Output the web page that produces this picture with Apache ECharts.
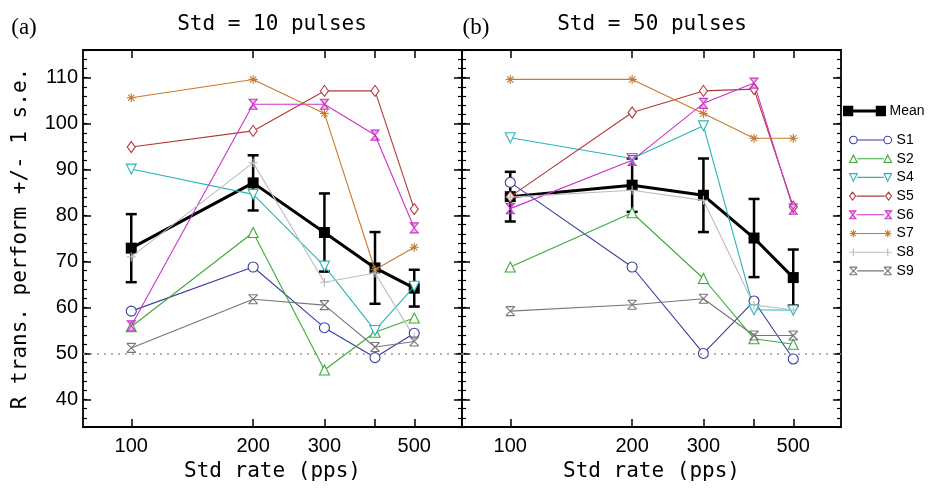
<!DOCTYPE html>
<html><head><meta charset="utf-8">
<script src="https://cdn.jsdelivr.net/npm/echarts@6/dist/echarts.min.js"></script>
<style>html,body{margin:0;padding:0;background:#fff}#c{width:939px;height:489px}</style>
</head><body><div id="c"></div>
<script>
// ---- data ----
const rates = [100, 200, 300, 400, 500];
const xTickRates = [100, 200, 300, 400, 500];
const xLabelRates = [100, 200, 300, 500];
const yMajorTicks = [40, 50, 60, 70, 80, 90, 100, 110];
const subjects = ['S1', 'S2', 'S4', 'S5', 'S6', 'S7', 'S8', 'S9'];
const panelTitles = ['Std = 10 pulses', 'Std = 50 pulses'];
const panelLetters = ['(a)', '(b)'];
const chance = 50;

const meanA = [72.9, 87.1, 76.3, 68.6, 64.2];
const seA   = [7.4, 6.0, 8.5, 7.8, 4.0];
const s1A = [59.2, 68.8, 55.6, 49.1, 54.4];
const s2A = [55.8, 76.3, 46.4, 54.6, 57.7];
const s4A = [90.1, 84.6, 69.0, 55.0, 64.6];
const s5A = [94.9, 98.4, 107.1, 107.1, 81.4];
const s6A = [56.0, 104.2, 104.2, 97.5, 77.3];
const s7A = [105.6, 109.6, 102.2, 68.2, 73.1];
const s8A = [71.0, 91.5, 65.5, 67.5, 53.5];
const s9A = [51.2, 61.8, 60.5, 51.4, 52.6];

const meanB = [84.1, 86.6, 84.4, 75.1, 66.5];
const seB   = [5.4, 5.8, 8.0, 8.5, 6.1];
const s1B = [87.2, 68.8, 50.0, 61.4, 48.8];
const s2B = [68.8, 80.6, 66.3, 53.2, 52.0];
const s4B = [96.9, 92.4, 99.5, 59.5, 59.4];
const s5B = [84.1, 102.4, 107.1, 107.5, 81.9];
const s6B = [81.5, 92.0, 104.4, 108.8, 81.4];
const s7B = [109.6, 109.6, 102.2, 96.8, 96.8];
const s8B = [84.0, 85.5, 83.3, 60.5, 59.5];
const s9B = [59.2, 60.6, 61.9, 53.9, 53.9];

const panels = [
  {mean: meanA, se: seA, subj: [s1A, s2A, s4A, s5A, s6A, s7A, s8A, s9A]},
  {mean: meanB, se: seB, subj: [s1B, s2B, s4B, s5B, s6B, s7B, s8B, s9B]}
];

// ---- styles ----
const subjStyle = [
  {color: '#3b3ba6', symbol: 'circle', size: 10, fill: '#fff', key: 'circle'},
  {color: '#3bab3b', symbol: 'triangle', size: 10, fill: '#fff', key: 'tri'},
  {color: '#2bb5b8', symbol: 'triangle', size: 10, fill: '#fff', rotate: 180, key: 'triDown'},
  {color: '#b33838', symbol: 'diamond', size: [8, 11], fill: '#fff', key: 'diamond'},
  {color: '#cc33cc', symbol: 'path://M0,0 L10,0 L0,12 L10,12 Z', size: [8, 10], fill: 'rgba(204,51,204,0.35)', key: 'hour'},
  {color: '#c87a2e', symbol: 'path://M5,0 L5,10 M0,5 L10,5 M1.5,1.5 L8.5,8.5 M8.5,1.5 L1.5,8.5', size: 9, fill: '#fff', key: 'star'},
  {color: '#bdbdbd', symbol: 'path://M5,0 L5,10 M0,5 L10,5', size: 9, fill: '#fff', key: 'plus'},
  {color: '#777777', symbol: 'path://M0,0 L10,0 M0,10 L10,10 M0,0 L10,10 M10,0 L0,10', size: 9, fill: '#fff', key: 'xbar'}
];

// legend icon: symbol - line - symbol, in a 44 x 8 box
const H = 4;
function symPath(key, cx) {
  const cy = H;
  switch (key) {
    case 'circle': return `M${cx-H},${cy} A${H},${H} 0 1 1 ${cx+H},${cy} A${H},${H} 0 1 1 ${cx-H},${cy} Z`;
    case 'tri': return `M${cx},0 L${cx+H},${2*H} L${cx-H},${2*H} Z`;
    case 'triDown': return `M${cx-H},0 L${cx+H},0 L${cx},${2*H} Z`;
    case 'diamond': return `M${cx},0 L${cx+H*0.75},${cy} L${cx},${2*H} L${cx-H*0.75},${cy} Z`;
    case 'hour': return `M${cx-H*0.8},0 L${cx+H*0.8},0 L${cx-H*0.8},${2*H} L${cx+H*0.8},${2*H} Z`;
    case 'star': return `M${cx},0 L${cx},${2*H} M${cx-H},${cy} L${cx+H},${cy} M${cx-H*0.7},${cy-H*0.7} L${cx+H*0.7},${cy+H*0.7} M${cx+H*0.7},${cy-H*0.7} L${cx-H*0.7},${cy+H*0.7}`;
    case 'plus': return `M${cx},0 L${cx},${2*H} M${cx-H},${cy} L${cx+H},${cy}`;
    case 'xbar': return `M${cx-H},0 L${cx+H},0 M${cx-H},${2*H} L${cx+H},${2*H} M${cx-H},0 L${cx+H},${2*H} M${cx+H},0 L${cx-H},${2*H}`;
  }
  return '';
}
function legendIcon(key) {
  const open = key === 'star' || key === 'plus';
  const a = open ? H : 2 * H, b = open ? 44 - H : 44 - 2 * H;
  return 'path://' + symPath(key, H) + ` M${a},${H} L${b},${H} ` + symPath(key, 44 - H);
}
const meanIcon = 'path://M0,0 L8,0 L8,8 L0,8 Z M8,4 L36,4 M36,0 L44,0 L44,8 L36,8 Z';

const lg = v => Math.log10(v);
const xMin = lg(76), xMax = lg(656);
const yMin = 34, yMax = 116;
const monoFont = 'DejaVu Sans Mono';
const sansFont = 'Liberation Sans';
const axisLineStyle = {color: '#000', width: 1.8};

const grids = [
  {left: 83, right: 477, top: 50, bottom: 62},
  {left: 462, right: 98, top: 50, bottom: 62}
];

const xAxes = [], yAxes = [], series = [];
grids.forEach((g, gi) => {
  ['bottom', 'top'].forEach(pos => {
    xAxes.push({
      type: 'value', gridIndex: gi, position: pos, min: xMin, max: xMax,
      axisLine: {show: true, lineStyle: axisLineStyle},
      axisTick: {show: true, inside: true, length: 8, customValues: xTickRates.map(lg), lineStyle: {color: '#000', width: 1.5}},
      axisLabel: pos === 'bottom' ? {
        show: true, customValues: xLabelRates.map(lg), margin: 9,
        formatter: v => String(Math.round(Math.pow(10, v))),
        fontSize: 20, fontFamily: sansFont, color: '#000'
      } : {show: false},
      splitLine: {show: false},
      name: pos === 'bottom' ? 'Std rate (pps)' : '',
      nameLocation: 'middle', nameGap: 34,
      nameTextStyle: {fontSize: 21, fontFamily: monoFont, color: '#000'}
    });
  });
  ['left', 'right'].forEach(pos => {
    yAxes.push({
      type: 'value', gridIndex: gi, position: pos, min: yMin, max: yMax, interval: 2,
      axisLine: {show: true, lineStyle: axisLineStyle},
      axisTick: {show: true, inside: true, length: 4, lineStyle: {color: '#000', width: 1.2}},
      axisLabel: {show: false}, splitLine: {show: false}
    });
    const withLabels = gi === 0 && pos === 'left';
    yAxes.push({
      type: 'value', gridIndex: gi, position: pos, min: yMin, max: yMax,
      axisLine: {show: false},
      axisTick: {show: true, inside: true, length: 8, customValues: yMajorTicks, lineStyle: {color: '#000', width: 1.5}},
      axisLabel: withLabels ? {show: true, customValues: yMajorTicks, margin: 5, fontSize: 20, fontFamily: sansFont, color: '#000'} : {show: false},
      splitLine: {show: false},
      name: withLabels ? 'R trans. perform +/- 1 s.e.' : '',
      nameLocation: 'middle', nameGap: 52,
      nameTextStyle: {fontSize: 21, fontFamily: monoFont, color: '#000'}
    });
  });
});

panels.forEach((p, gi) => {
  const xi = gi * 2, yi = gi * 4;
  series.push({
    type: 'custom', name: 'Mean s.e.', xAxisIndex: xi, yAxisIndex: yi, z: 3, silent: true,
    data: rates.map((r, i) => [lg(r), p.mean[i] - p.se[i], p.mean[i] + p.se[i]]),
    renderItem: (params, api) => {
      const x = api.value(0);
      const lo = api.coord([x, api.value(1)]);
      const hi = api.coord([x, api.value(2)]);
      const hw = 5.5;
      const st = {stroke: '#000', lineWidth: 2.5, fill: null};
      return {type: 'group', children: [
        {type: 'line', shape: {x1: lo[0], y1: lo[1], x2: hi[0], y2: hi[1]}, style: st},
        {type: 'line', shape: {x1: lo[0] - hw, y1: lo[1], x2: lo[0] + hw, y2: lo[1]}, style: st},
        {type: 'line', shape: {x1: hi[0] - hw, y1: hi[1], x2: hi[0] + hw, y2: hi[1]}, style: st}
      ]};
    }
  });
  series.push({
    type: 'line', name: 'Mean', xAxisIndex: xi, yAxisIndex: yi, z: 3,
    data: rates.map((r, i) => [lg(r), p.mean[i]]),
    symbol: 'rect', symbolSize: 11,
    itemStyle: {color: '#000', borderColor: '#000', borderWidth: 0},
    lineStyle: {color: '#000', width: 3},
    markLine: {
      silent: true, symbol: 'none', label: {show: false},
      lineStyle: {color: '#9a9a9a', type: [2, 5], width: 1.6},
      data: [{yAxis: chance}]
    }
  });
  p.subj.forEach((vals, si) => {
    const s = subjStyle[si];
    series.push({
      type: 'line', name: subjects[si], xAxisIndex: xi, yAxisIndex: yi, z: 4,
      data: rates.map((r, i) => [lg(r), vals[i]]),
      symbol: s.symbol, symbolSize: s.size, symbolRotate: s.rotate || 0,
      itemStyle: {color: s.fill, borderColor: s.color, borderWidth: 1.1},
      lineStyle: {color: s.color, width: 1.1}
    });
  });
});

const graphics = [];
grids.forEach((g, gi) => {
  const cx = gi === 0 ? 272 : 652;
  graphics.push({type: 'text', x: cx, y: 25, style: {text: panelTitles[gi], textAlign: 'center', textVerticalAlign: 'middle', font: '21px "DejaVu Sans Mono"', fill: '#000'}});
  graphics.push({type: 'text', x: gi === 0 ? 24 : 476, y: 28, style: {text: panelLetters[gi], textAlign: 'center', textVerticalAlign: 'middle', font: '23px "Liberation Serif"', fill: '#000'}});
});

const chart = echarts.init(document.getElementById('c'), null, {renderer: 'canvas'});
chart.setOption({
  animation: false,
  backgroundColor: '#fff',
  grid: grids,
  xAxis: xAxes,
  yAxis: yAxes,
  legend: [
    {data: [{name: 'Mean', icon: meanIcon, itemStyle: {color: '#000', borderColor: '#000', borderWidth: 3}}],
     orient: 'vertical', left: 843, top: 104, padding: 0, itemWidth: 40, itemHeight: 8,
     selectedMode: false, textStyle: {fontSize: 14, lineHeight: 14, fontFamily: sansFont, color: '#000'}},
    {data: subjects.map((n, i) => ({name: n, icon: legendIcon(subjStyle[i].key),
       itemStyle: {color: subjStyle[i].fill, borderColor: subjStyle[i].color, borderWidth: 1.1}})),
     orient: 'vertical', left: 849, top: 133, padding: 0, itemWidth: 42, itemHeight: 8, itemGap: 4.7,
     selectedMode: false, textStyle: {fontSize: 14, lineHeight: 14, fontFamily: sansFont, color: '#000'}}
  ],
  graphic: graphics,
  series: series
});
</script>
</body></html>
